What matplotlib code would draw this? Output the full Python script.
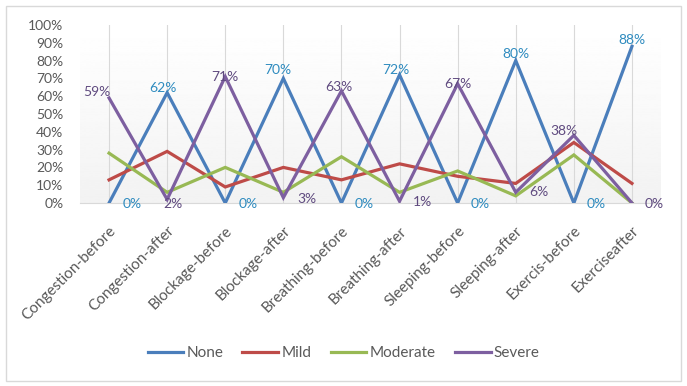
import matplotlib.pyplot as plt
import numpy as np
from matplotlib.patches import Rectangle

plt.rcParams['font.family'] = ['Lato', 'DejaVu Sans']

# Data
categories = ['Congestion-before', 'Congestion-after', 'Blockage-before', 'Blockage-after',
              'Breathing-before', 'Breathing-after', 'Sleeping-before', 'Sleeping-after',
              'Exercis-before', 'Exerciseafter']
none_vals = [0, 62, 0, 70, 0, 72, 0, 80, 0, 88]
mild_vals = [13, 29, 9, 20, 13, 22, 15, 11, 34, 11]
moderate_vals = [28, 6, 20, 6, 26, 6, 18, 4, 27, 0]
severe_vals = [59, 2, 71, 3, 63, 1, 67, 6, 38, 0]

# label offsets in pixels (dx, dy)
none_offsets = [(23, -1), (-4, 5), (23, -1), (-6, 8), (23, -1),
                (-4, 5), (23, -1), (0, 7), (22, -1), (0, 6)]
severe_offsets = [(-12, 6), (6, -5), (0, 0), (24, -1), (-3, 4),
                  (23, -1), (0, 0), (23, 0), (-10, 4), (22, -1)]

fig = plt.figure(figsize=(6.87, 3.86), dpi=100)
ax = fig.add_axes([80 / 687, 183 / 386, 581 / 687, 178 / 386])

x = np.arange(len(categories))

# plot area gradient
grad = np.linspace(0.95, 1.0, 256).reshape(-1, 1)
ax.imshow(grad, extent=[-0.5, 9.5, 0, 1.0], aspect='auto', cmap='gray',
          vmin=0, vmax=1, origin='lower', zorder=0)

for xi in x:
    ax.axvline(xi, color='#d9d9d9', lw=0.8, zorder=1)

series = [('None', none_vals, '#4a7ebb'), ('Mild', mild_vals, '#be4b48'),
          ('Moderate', moderate_vals, '#98b954'), ('Severe', severe_vals, '#7d5fa0')]
for name, vals, col in series:
    ax.plot(x, np.array(vals) / 100, color=col, lw=2.3, label=name, zorder=3,
            solid_joinstyle='miter')

for xi, v, off in zip(x, none_vals, none_offsets):
    ax.annotate(f'{v}%', (xi, v / 100), xytext=off, textcoords='offset pixels',
                ha='center', va='center', fontsize=10, color='#2e8bbf', zorder=4)
for xi, v, off in zip(x, severe_vals, severe_offsets):
    ax.annotate(f'{v}%', (xi, v / 100), xytext=off, textcoords='offset pixels',
                ha='center', va='center', fontsize=10, color='#5f4a7f', zorder=4)

ax.set_xlim(-0.5, 9.5)
ax.set_ylim(0, 1.0)
ax.set_yticks(np.arange(0, 1.01, 0.1))
ax.set_yticklabels([f'{int(round(t * 100))}%' for t in np.arange(0, 1.01, 0.1)])
ax.set_xticks(x)
ax.set_xticklabels(categories, rotation=45, ha='right', va='top',
                   rotation_mode='anchor', fontsize=11)
ax.tick_params(axis='both', length=0, labelcolor='#595959')
ax.tick_params(axis='y', pad=12, labelsize=10)
ax.tick_params(axis='x', pad=15)

for s in ['top', 'right', 'left']:
    ax.spines[s].set_visible(False)
ax.spines['bottom'].set_color('#d9d9d9')
ax.spines['bottom'].set_zorder(2)

leg = fig.legend(loc='center', bbox_to_anchor=(0.5, 1 - 353 / 386), ncol=4,
                 frameon=False, fontsize=11, handlelength=2.35, columnspacing=1.25,
                 handletextpad=0.2)
for t in leg.get_texts():
    t.set_color('#595959')

fig.patches.append(Rectangle((6 / 687, 5 / 386), 675 / 687, 375 / 386,
                             transform=fig.transFigure, fill=False,
                             edgecolor='#d9d9d9', lw=1))

fig.savefig('out.png', dpi=100)
